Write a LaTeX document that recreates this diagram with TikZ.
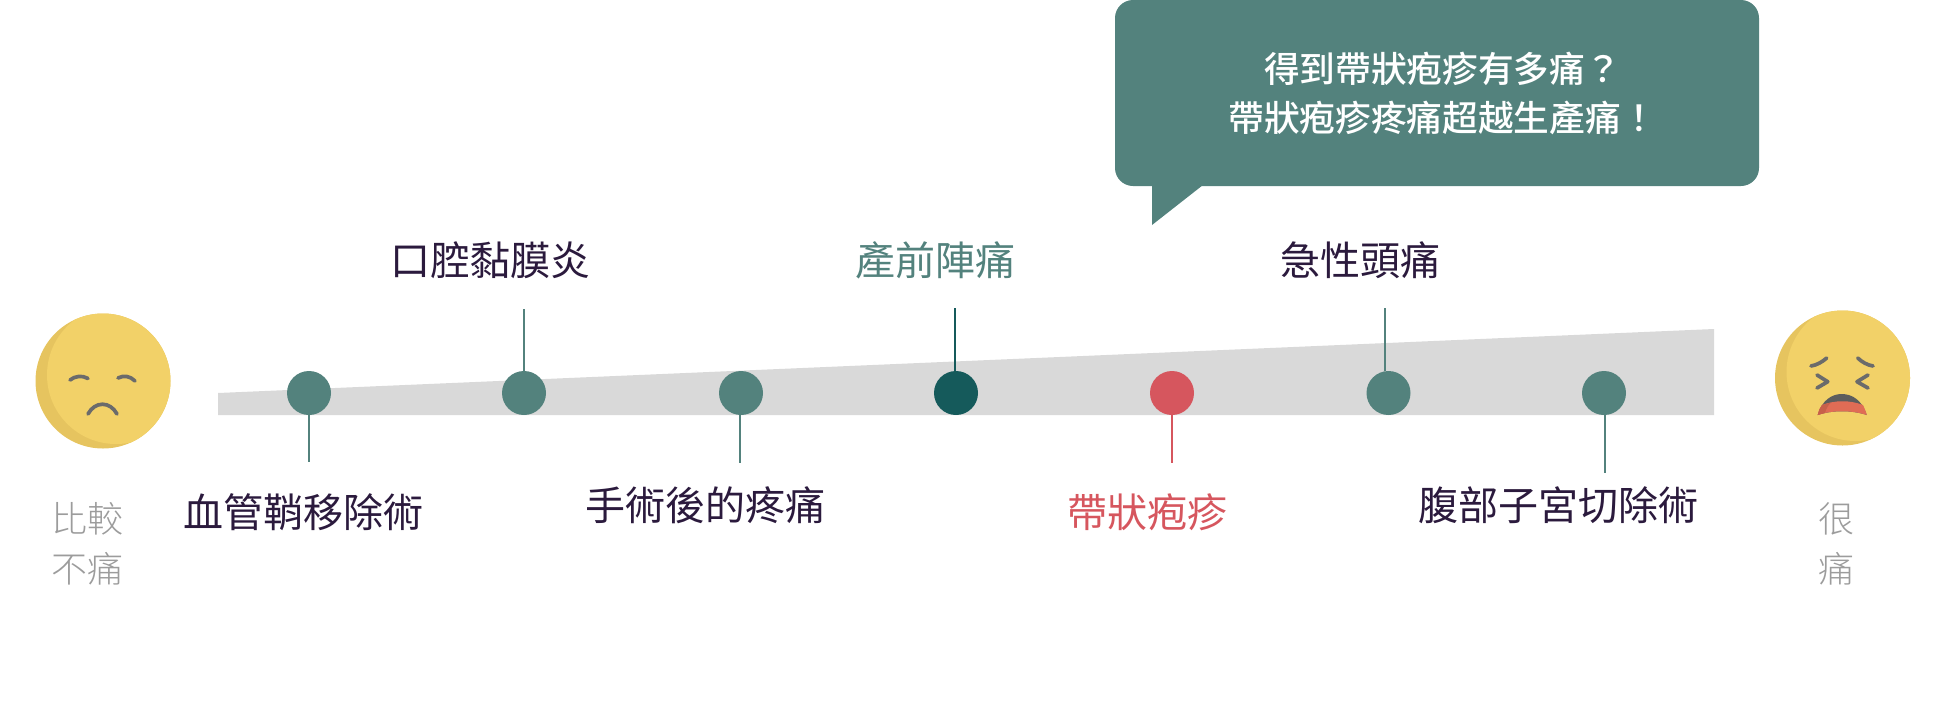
\documentclass[tikz,border=0pt]{standalone}
\usepackage{fontspec}
\setmainfont{Noto Sans CJK TC}
\newfontfamily\lightcjk[UprightFont=* Light]{Noto Sans CJK TC}
\newfontfamily\medcjk[UprightFont=* Medium]{Noto Sans CJK TC}
\definecolor{teal1}{HTML}{53827D}
\definecolor{teal2}{HTML}{155A5B}
\definecolor{red1}{HTML}{D6565E}
\definecolor{bar1}{HTML}{D9D9D9}
\definecolor{ink1}{HTML}{2B1A3D}
\definecolor{grey1}{HTML}{9C9C9C}
\definecolor{yel1}{HTML}{F2D168}
\definecolor{yel2}{HTML}{E6C45F}
\definecolor{face1}{HTML}{6B6B6B}
\definecolor{mouth1}{HTML}{5D5D5D}
\definecolor{mouth2}{HTML}{E06C55}
\definecolor{mouth3}{HTML}{C8604A}
\tikzset{
 dot/.style={circle,minimum size=44pt,inner sep=0pt,fill=#1},
 lbl/.style={inner sep=0pt,font=\fontsize{40}{40}\selectfont,text=#1},
 side/.style={inner sep=0pt,align=center,font=\fontsize{36}{50}\selectfont\lightcjk,text=grey1},
 tick/.style={line width=1.8pt,draw=#1},
 feat/.style={line width=3.7pt,line cap=round,draw=face1}
}
\begin{document}
\begin{tikzpicture}[x=1pt,y=-1pt]
\useasboundingbox (0,0) rectangle (1940,726);
\fill[bar1] (218,393) -- (1714,329) -- (1714,415) -- (218,415) -- cycle;
% connector ends
\coordinate (e1) at (309,462);
\coordinate (e2) at (524,309);
\coordinate (e3) at (740,463);
\coordinate (e4) at (955,308);
\coordinate (e5) at (1172,463);
\coordinate (e6) at (1385,308);
\coordinate (e7) at (1605,473);
\node[dot=teal1] (c1) at (309,393) {};
\node[dot=teal1] (c2) at (524,393) {};
\node[dot=teal1] (c3) at (741,393) {};
\node[dot=teal2] (c4) at (956,393) {};
\node[dot=red1] (c5) at (1172,393) {};
\node[dot=teal1] (c6) at (1388.5,393) {};
\node[dot=teal1] (c7) at (1604,393) {};
\draw[tick=teal1] (e1 |- c1.south) -- (e1);
\draw[tick=teal1] (e2 |- c2.north) -- (e2);
\draw[tick=teal1] (e3 |- c3.south) -- (e3);
\draw[tick=teal2] (e4 |- c4.north) -- (e4);
\draw[tick=red1] (e5 |- c5.south) -- (e5);
\draw[tick=teal1] (e6 |- c6.north) -- (e6);
\draw[tick=teal1] (e7 |- c7.south) -- (e7);
% labels
\node[lbl=ink1] (l1) at (303,512) {血管鞘移除術};
\node[lbl=ink1] (l2) at (490,260) {口腔黏膜炎};
\node[lbl=ink1] (l3) at (705,505) {手術後的疼痛};
\node[lbl=teal1] (l4) at (935,260) {產前陣痛};
\node[lbl=red1] (l5) at (1147,512) {帶狀疱疹};
\node[lbl=ink1] (l6) at (1360,260) {急性頭痛};
\node[lbl=ink1] (l7) at (1558,505) {腹部子宮切除術};
\node[side] (s1) at (87.5,544) {比較\\不痛};
\node[side] (s2) at (1836,544) {很\\痛};
% bubble
\fill[teal1,rounded corners=18pt] (1115,0) -- (1759,0) -- (1759,186) -- (1115,186) -- cycle;
\fill[teal1] (1152,185) -- (1203,185) -- (1152,225) -- cycle;
\node[inner sep=0pt,align=center,text=white,font=\fontsize{35.7}{49}\selectfont\medcjk] (b) at (1442.5,93) {得到帶狀疱疹有多痛？\\帶狀疱疹疼痛超越生產痛！};
% left face
\fill[yel2] (103,381) circle (67.5);
\begin{scope}
\clip (103,381) circle (67.5);
\fill[yel1] (116,375) circle (69);
\end{scope}
\draw[feat] (70,380) .. controls (75,376) and (82,375) .. (88,378.5);
\draw[feat] (118,378) .. controls (124,375) and (130,376) .. (135,381);
\draw[feat] (88,414) .. controls (95,401) and (110,401) .. (117,414);
% right face
\fill[yel2] (1842.5,378) circle (67.5);
\begin{scope}
\clip (1842.5,378) circle (67.5);
\fill[yel1] (1855.5,372) circle (69);
\end{scope}
\draw[feat] (1811,366) .. controls (1817,365) and (1822,362) .. (1826.7,358);
\draw[feat] (1873,366) .. controls (1867,365) and (1862,362) .. (1857.7,358);
\draw[feat,line join=round] (1817,375) -- (1827.7,381.7) -- (1817,388);
\draw[feat,line join=round] (1868,375) -- (1857,381.7) -- (1868,388);
\fill[mouth1] (1817.7,415) .. controls (1822,400) and (1832,394) .. (1841.7,394) .. controls (1852,394) and (1862,400) .. (1866.7,415) .. controls (1852,410) and (1832,410) .. (1817.7,415) -- cycle;
\fill[mouth2] (1817.7,415) .. controls (1819,410) and (1820,407) .. (1822,405) .. controls (1835,400) and (1850,400) .. (1863,405) .. controls (1864,408) and (1866,411) .. (1866.7,415) .. controls (1852,410) and (1832,410) .. (1817.7,415) -- cycle;
\fill[mouth3] (1817.7,415) .. controls (1819,410) and (1820,407) .. (1822,405) -- (1831,402.5) .. controls (1828,405) and (1826,409) .. (1825,413) -- cycle;
\end{tikzpicture}
\end{document}
